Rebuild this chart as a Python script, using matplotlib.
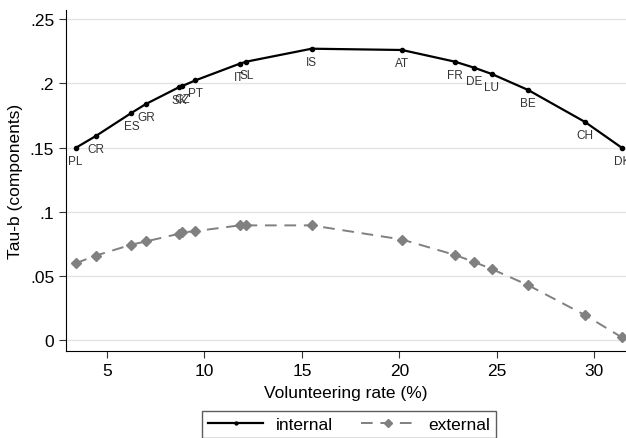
import numpy as np
import matplotlib
matplotlib.use("Agg")
import matplotlib.pyplot as plt

plt.rcParams["font.family"] = ["Liberation Sans", "DejaVu Sans"]

# Countries, volunteering rate and tau-b components
countries = ["PL", "CR", "ES", "GR", "SK", "CZ", "PT", "IT", "SL", "IS",
             "AT", "FR", "DE", "LU", "BE", "CH", "DK"]
vol_rate = [3.39, 4.43, 6.25, 7.0, 8.7, 8.85, 9.54, 11.8, 12.14, 15.5,
            20.13, 22.85, 23.84, 24.74, 26.6, 29.52, 31.42]
internal = [0.1497, 0.159, 0.1769, 0.1839, 0.1970, 0.1978, 0.2023, 0.2152,
            0.2168, 0.2269, 0.2259, 0.2168, 0.2121, 0.2072, 0.1948, 0.1699, 0.1497]
external = [0.060, 0.066, 0.0745, 0.077, 0.083, 0.084, 0.085, 0.0895,
            0.0895, 0.0895, 0.0785, 0.0665, 0.061, 0.0555, 0.043, 0.0197, 0.0023]

yticks = [0, 0.05, 0.1, 0.15, 0.2, 0.25]
ytick_labels = ["0", ".05", ".1", ".15", ".2", ".25"]
xticks = [5, 10, 15, 20, 25, 30]

fig = plt.figure(figsize=(6.26, 4.39), dpi=100)
ax = fig.add_axes([66 / 626, 1 - 352 / 439, 1 - 66 / 626, (352 - 11) / 439])

l1, = ax.plot(vol_rate, internal, color="black", lw=1.6, marker="o", ms=3,
              label="internal", zorder=3)
l2, = ax.plot(vol_rate, external, color="#808080", lw=1.4, ls=(0, (6, 4)),
              marker="D", ms=5.5, label="external", zorder=3)

for c, x, y in zip(countries, vol_rate, internal):
    ax.annotate(c, (x, y), xytext=(0, -5), textcoords="offset points",
                ha="center", va="top", fontsize=8.5, color="#333333",
                annotation_clip=False)

ax.set_xlim(2.9, 31.62)
ax.set_ylim(-0.0082, 0.257)
ax.set_yticks(yticks)
ax.set_yticklabels(ytick_labels)
ax.set_xticks(xticks)
ax.yaxis.grid(True, color="#e4e4e4", lw=1)
ax.set_axisbelow(True)
ax.spines["top"].set_visible(False)
ax.spines["right"].set_visible(False)
ax.tick_params(labelsize=12.5, length=5, color="#333333")
ax.set_xlabel("Volunteering rate (%)", fontsize=12.5, labelpad=5)
ax.set_ylabel("Tau-b (components)", fontsize=12.5, labelpad=5)

leg = fig.legend(handles=[l1, l2], loc="upper center",
                 bbox_to_anchor=(349 / 626, 1 - 412 / 439), ncol=2,
                 fontsize=12.5, frameon=True, fancybox=False,
                 edgecolor="#333333", handlelength=3.2, columnspacing=1.6,
                 handletextpad=0.7, borderpad=0.35, borderaxespad=0,
                 markerscale=0.7)
leg.get_frame().set_linewidth(1.0)

fig.savefig("out.png", dpi=100)
